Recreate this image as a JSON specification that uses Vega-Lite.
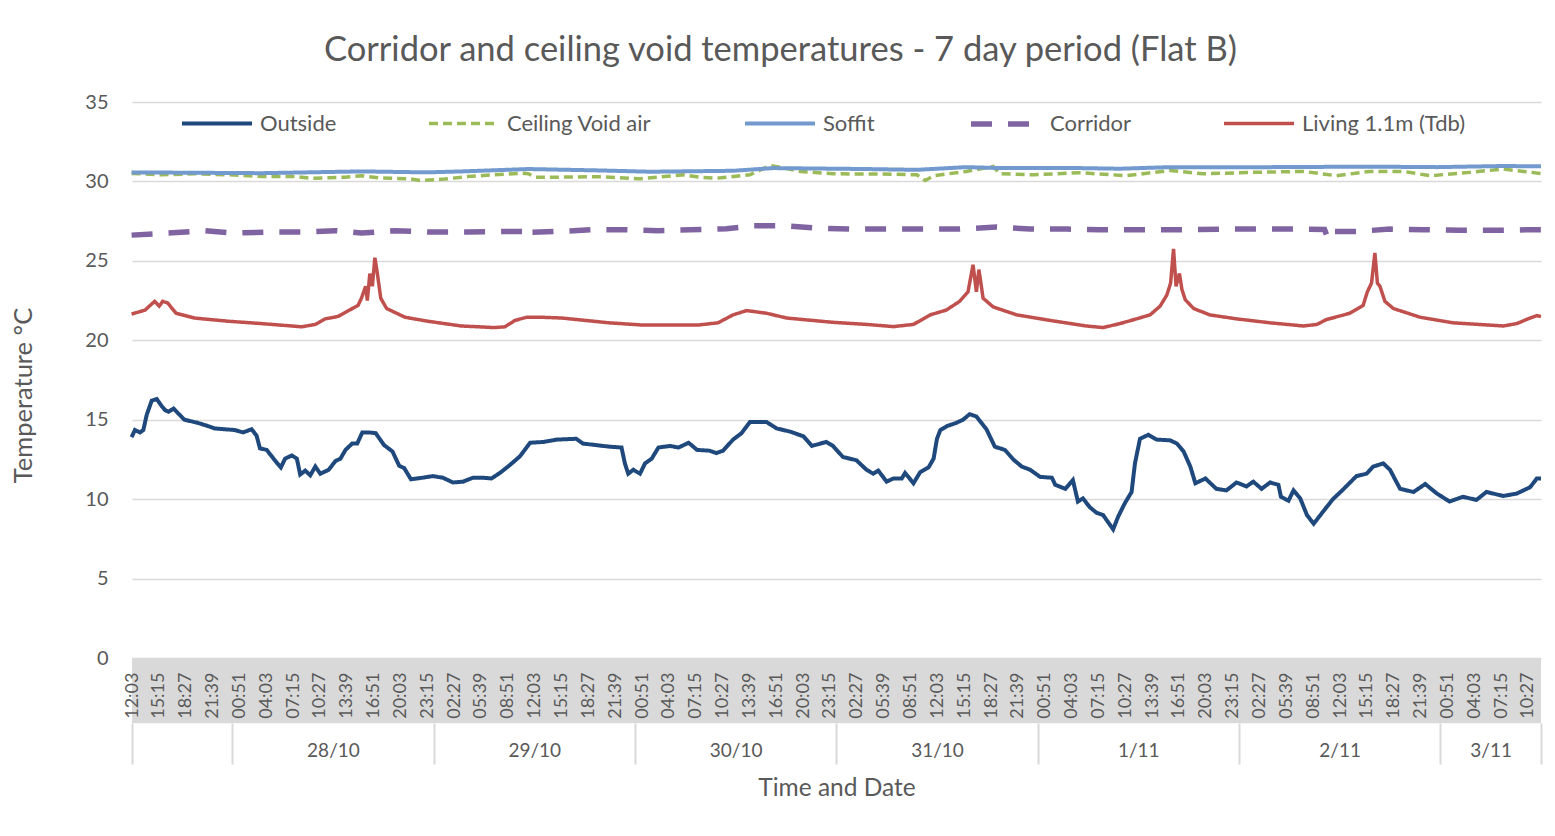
{
"$schema": "https://vega.github.io/schema/vega-lite/v6.json",
"width": 1409,
"height": 556,
"autosize": {"type": "none"},
"padding": {"left": 132, "top": 102, "right": 14, "bottom": 178},
"background": "white",
"config": {"font": "Lato", "view": {"stroke": null}},
"title": {"text": "Corridor and ceiling void temperatures - 7 day period (Flat B)", "fontSize": 34.5, "font": "Lato", "fontWeight": "normal", "color": "#595959", "anchor": "middle", "frame": "group", "offset": 18, "dx": -56},
"resolve": {"scale": {"x": "independent"}},
"layer": [
{
"data": {"values": [{}]},
"mark": {"type": "rect", "color": "#D9D9D9"},
"encoding": {
"x": {"datum": 12.05, "type": "quantitative", "scale": {"domain": [12.05, 180], "nice": false, "zero": false},
"axis": {"orient": "bottom", "values": [12.05, 24, 48, 72, 96, 120, 144, 168, 180], "labels": false, "domain": false, "grid": false, "ticks": true, "tickSize": 41, "tickWidth": 2, "tickColor": "#D9D9D9", "offset": 65, "title": null}},
"x2": {"datum": 180},
"y": {"datum": 0, "type": "quantitative", "scale": {"domain": [0, 35], "nice": false, "zero": false}},
"y2": {"datum": -4.1}
}
},
{
"data": {"values": [
{"hour":12.0,"series":"Outside","temp":13.9},{"hour":12.4,"series":"Outside","temp":14.35},{"hour":13.0,"series":"Outside","temp":14.2},{"hour":13.4,"series":"Outside","temp":14.35},{"hour":13.8,"series":"Outside","temp":15.3},{"hour":14.4,"series":"Outside","temp":16.2},{"hour":15.0,"series":"Outside","temp":16.3},{"hour":15.6,"series":"Outside","temp":15.85},{"hour":16.0,"series":"Outside","temp":15.6},{"hour":16.4,"series":"Outside","temp":15.5},{"hour":17.0,"series":"Outside","temp":15.7},{"hour":18.3,"series":"Outside","temp":15.0},{"hour":19.9,"series":"Outside","temp":14.8},{"hour":21.1,"series":"Outside","temp":14.6},{"hour":21.9,"series":"Outside","temp":14.45},{"hour":24.3,"series":"Outside","temp":14.35},{"hour":25.3,"series":"Outside","temp":14.2},{"hour":26.3,"series":"Outside","temp":14.4},{"hour":26.9,"series":"Outside","temp":14.0},{"hour":27.3,"series":"Outside","temp":13.2},{"hour":28.1,"series":"Outside","temp":13.1},{"hour":28.7,"series":"Outside","temp":12.7},{"hour":29.3,"series":"Outside","temp":12.3},{"hour":29.8,"series":"Outside","temp":12.0},{"hour":30.3,"series":"Outside","temp":12.55},{"hour":31.1,"series":"Outside","temp":12.75},{"hour":31.7,"series":"Outside","temp":12.55},{"hour":32.1,"series":"Outside","temp":11.55},{"hour":32.7,"series":"Outside","temp":11.8},{"hour":33.3,"series":"Outside","temp":11.5},{"hour":33.9,"series":"Outside","temp":12.05},{"hour":34.5,"series":"Outside","temp":11.6},{"hour":35.5,"series":"Outside","temp":11.85},{"hour":36.3,"series":"Outside","temp":12.4},{"hour":36.9,"series":"Outside","temp":12.55},{"hour":37.5,"series":"Outside","temp":13.1},{"hour":38.3,"series":"Outside","temp":13.5},{"hour":38.9,"series":"Outside","temp":13.5},{"hour":39.5,"series":"Outside","temp":14.2},{"hour":40.3,"series":"Outside","temp":14.2},{"hour":41.1,"series":"Outside","temp":14.15},{"hour":42.1,"series":"Outside","temp":13.4},{"hour":43.1,"series":"Outside","temp":13.0},{"hour":43.9,"series":"Outside","temp":12.1},{"hour":44.5,"series":"Outside","temp":11.95},{"hour":45.3,"series":"Outside","temp":11.25},{"hour":46.7,"series":"Outside","temp":11.35},{"hour":47.9,"series":"Outside","temp":11.45},{"hour":49.1,"series":"Outside","temp":11.35},{"hour":50.3,"series":"Outside","temp":11.05},{"hour":51.5,"series":"Outside","temp":11.1},{"hour":52.7,"series":"Outside","temp":11.35},{"hour":53.9,"series":"Outside","temp":11.35},{"hour":54.9,"series":"Outside","temp":11.3},{"hour":55.9,"series":"Outside","temp":11.65},{"hour":57.1,"series":"Outside","temp":12.15},{"hour":58.3,"series":"Outside","temp":12.7},{"hour":59.5,"series":"Outside","temp":13.55},{"hour":61.1,"series":"Outside","temp":13.6},{"hour":62.7,"series":"Outside","temp":13.75},{"hour":65.0,"series":"Outside","temp":13.8},{"hour":65.8,"series":"Outside","temp":13.5},{"hour":67.4,"series":"Outside","temp":13.4},{"hour":69.0,"series":"Outside","temp":13.3},{"hour":70.4,"series":"Outside","temp":13.25},{"hour":70.8,"series":"Outside","temp":12.25},{"hour":71.2,"series":"Outside","temp":11.6},{"hour":71.8,"series":"Outside","temp":11.85},{"hour":72.6,"series":"Outside","temp":11.6},{"hour":73.2,"series":"Outside","temp":12.25},{"hour":74.0,"series":"Outside","temp":12.55},{"hour":74.8,"series":"Outside","temp":13.25},{"hour":76.2,"series":"Outside","temp":13.35},{"hour":77.2,"series":"Outside","temp":13.25},{"hour":78.4,"series":"Outside","temp":13.55},{"hour":79.4,"series":"Outside","temp":13.1},{"hour":80.9,"series":"Outside","temp":13.05},{"hour":81.7,"series":"Outside","temp":12.9},{"hour":82.5,"series":"Outside","temp":13.05},{"hour":83.7,"series":"Outside","temp":13.75},{"hour":84.7,"series":"Outside","temp":14.15},{"hour":85.7,"series":"Outside","temp":14.85},{"hour":87.7,"series":"Outside","temp":14.85},{"hour":88.9,"series":"Outside","temp":14.45},{"hour":90.5,"series":"Outside","temp":14.25},{"hour":92.1,"series":"Outside","temp":13.95},{"hour":93.1,"series":"Outside","temp":13.35},{"hour":94.8,"series":"Outside","temp":13.6},{"hour":95.6,"series":"Outside","temp":13.35},{"hour":96.8,"series":"Outside","temp":12.65},{"hour":98.4,"series":"Outside","temp":12.45},{"hour":99.6,"series":"Outside","temp":11.85},{"hour":100.4,"series":"Outside","temp":11.6},{"hour":101.0,"series":"Outside","temp":11.8},{"hour":102.0,"series":"Outside","temp":11.1},{"hour":102.8,"series":"Outside","temp":11.3},{"hour":103.8,"series":"Outside","temp":11.3},{"hour":104.2,"series":"Outside","temp":11.65},{"hour":105.2,"series":"Outside","temp":11.0},{"hour":106.0,"series":"Outside","temp":11.7},{"hour":107.0,"series":"Outside","temp":12.0},{"hour":107.6,"series":"Outside","temp":12.55},{"hour":108.0,"series":"Outside","temp":13.8},{"hour":108.4,"series":"Outside","temp":14.35},{"hour":109.2,"series":"Outside","temp":14.6},{"hour":110.3,"series":"Outside","temp":14.8},{"hour":111.1,"series":"Outside","temp":15.0},{"hour":111.9,"series":"Outside","temp":15.35},{"hour":112.7,"series":"Outside","temp":15.2},{"hour":113.9,"series":"Outside","temp":14.4},{"hour":114.9,"series":"Outside","temp":13.3},{"hour":116.1,"series":"Outside","temp":13.1},{"hour":117.1,"series":"Outside","temp":12.5},{"hour":118.1,"series":"Outside","temp":12.05},{"hour":119.1,"series":"Outside","temp":11.85},{"hour":120.3,"series":"Outside","temp":11.4},{"hour":121.7,"series":"Outside","temp":11.35},{"hour":122.1,"series":"Outside","temp":10.9},{"hour":123.3,"series":"Outside","temp":10.65},{"hour":124.2,"series":"Outside","temp":11.2},{"hour":124.8,"series":"Outside","temp":9.85},{"hour":125.4,"series":"Outside","temp":10.05},{"hour":126.2,"series":"Outside","temp":9.5},{"hour":127.0,"series":"Outside","temp":9.15},{"hour":127.8,"series":"Outside","temp":9.0},{"hour":128.4,"series":"Outside","temp":8.55},{"hour":129.0,"series":"Outside","temp":8.1},{"hour":129.6,"series":"Outside","temp":8.9},{"hour":130.4,"series":"Outside","temp":9.75},{"hour":131.2,"series":"Outside","temp":10.45},{"hour":131.6,"series":"Outside","temp":12.25},{"hour":132.2,"series":"Outside","temp":13.8},{"hour":133.2,"series":"Outside","temp":14.05},{"hour":134.2,"series":"Outside","temp":13.75},{"hour":135.8,"series":"Outside","temp":13.7},{"hour":136.6,"series":"Outside","temp":13.5},{"hour":137.4,"series":"Outside","temp":13.0},{"hour":138.2,"series":"Outside","temp":12.05},{"hour":138.8,"series":"Outside","temp":11.0},{"hour":140.0,"series":"Outside","temp":11.3},{"hour":141.3,"series":"Outside","temp":10.65},{"hour":142.5,"series":"Outside","temp":10.55},{"hour":143.7,"series":"Outside","temp":11.05},{"hour":144.9,"series":"Outside","temp":10.8},{"hour":145.7,"series":"Outside","temp":11.1},{"hour":146.7,"series":"Outside","temp":10.65},{"hour":147.7,"series":"Outside","temp":11.05},{"hour":148.7,"series":"Outside","temp":10.9},{"hour":149.0,"series":"Outside","temp":10.15},{"hour":149.9,"series":"Outside","temp":9.9},{"hour":150.5,"series":"Outside","temp":10.55},{"hour":151.3,"series":"Outside","temp":10.05},{"hour":152.1,"series":"Outside","temp":9.0},{"hour":152.9,"series":"Outside","temp":8.45},{"hour":154.0,"series":"Outside","temp":9.2},{"hour":155.2,"series":"Outside","temp":10.0},{"hour":156.4,"series":"Outside","temp":10.6},{"hour":158.0,"series":"Outside","temp":11.45},{"hour":159.2,"series":"Outside","temp":11.6},{"hour":160.0,"series":"Outside","temp":12.05},{"hour":161.2,"series":"Outside","temp":12.25},{"hour":162.0,"series":"Outside","temp":11.85},{"hour":163.2,"series":"Outside","temp":10.65},{"hour":164.8,"series":"Outside","temp":10.45},{"hour":166.2,"series":"Outside","temp":10.95},{"hour":167.6,"series":"Outside","temp":10.35},{"hour":169.1,"series":"Outside","temp":9.85},{"hour":170.7,"series":"Outside","temp":10.15},{"hour":172.3,"series":"Outside","temp":9.95},{"hour":173.5,"series":"Outside","temp":10.45},{"hour":175.5,"series":"Outside","temp":10.2},{"hour":177.1,"series":"Outside","temp":10.35},{"hour":178.7,"series":"Outside","temp":10.75},{"hour":179.5,"series":"Outside","temp":11.3},{"hour":180.0,"series":"Outside","temp":11.3},
{"hour":12.0,"series":"Ceiling Void air","temp":30.5},{"hour":15.6,"series":"Ceiling Void air","temp":30.42},{"hour":19.5,"series":"Ceiling Void air","temp":30.48},{"hour":23.5,"series":"Ceiling Void air","temp":30.42},{"hour":27.5,"series":"Ceiling Void air","temp":30.31},{"hour":31.5,"series":"Ceiling Void air","temp":30.31},{"hour":33.4,"series":"Ceiling Void air","temp":30.2},{"hour":37.4,"series":"Ceiling Void air","temp":30.27},{"hour":39.4,"series":"Ceiling Void air","temp":30.36},{"hour":41.4,"series":"Ceiling Void air","temp":30.23},{"hour":45.3,"series":"Ceiling Void air","temp":30.15},{"hour":46.5,"series":"Ceiling Void air","temp":30.05},{"hour":49.3,"series":"Ceiling Void air","temp":30.15},{"hour":52.1,"series":"Ceiling Void air","temp":30.31},{"hour":55.3,"series":"Ceiling Void air","temp":30.42},{"hour":58.5,"series":"Ceiling Void air","temp":30.52},{"hour":59.3,"series":"Ceiling Void air","temp":30.48},{"hour":60.1,"series":"Ceiling Void air","temp":30.27},{"hour":63.3,"series":"Ceiling Void air","temp":30.27},{"hour":68.0,"series":"Ceiling Void air","temp":30.3},{"hour":72.6,"series":"Ceiling Void air","temp":30.17},{"hour":77.8,"series":"Ceiling Void air","temp":30.42},{"hour":79.7,"series":"Ceiling Void air","temp":30.27},{"hour":81.7,"series":"Ceiling Void air","temp":30.2},{"hour":85.7,"series":"Ceiling Void air","temp":30.42},{"hour":88.1,"series":"Ceiling Void air","temp":31.0},{"hour":89.3,"series":"Ceiling Void air","temp":30.9},{"hour":91.7,"series":"Ceiling Void air","temp":30.63},{"hour":95.6,"series":"Ceiling Void air","temp":30.48},{"hour":101.6,"series":"Ceiling Void air","temp":30.46},{"hour":105.6,"series":"Ceiling Void air","temp":30.42},{"hour":106.6,"series":"Ceiling Void air","temp":30.06},{"hour":107.6,"series":"Ceiling Void air","temp":30.36},{"hour":111.5,"series":"Ceiling Void air","temp":30.63},{"hour":114.7,"series":"Ceiling Void air","temp":30.94},{"hour":115.5,"series":"Ceiling Void air","temp":30.48},{"hour":119.5,"series":"Ceiling Void air","temp":30.42},{"hour":125.0,"series":"Ceiling Void air","temp":30.55},{"hour":130.6,"series":"Ceiling Void air","temp":30.36},{"hour":135.8,"series":"Ceiling Void air","temp":30.69},{"hour":139.7,"series":"Ceiling Void air","temp":30.48},{"hour":145.7,"series":"Ceiling Void air","temp":30.57},{"hour":151.7,"series":"Ceiling Void air","temp":30.63},{"hour":155.6,"series":"Ceiling Void air","temp":30.36},{"hour":159.6,"series":"Ceiling Void air","temp":30.63},{"hour":163.6,"series":"Ceiling Void air","temp":30.63},{"hour":166.8,"series":"Ceiling Void air","temp":30.36},{"hour":171.5,"series":"Ceiling Void air","temp":30.57},{"hour":175.5,"series":"Ceiling Void air","temp":30.78},{"hour":180.0,"series":"Ceiling Void air","temp":30.5},
{"hour":12.0,"series":"Soffit","temp":30.57},{"hour":27.5,"series":"Soffit","temp":30.52},{"hour":39.4,"series":"Soffit","temp":30.63},{"hour":47.3,"series":"Soffit","temp":30.57},{"hour":51.3,"series":"Soffit","temp":30.63},{"hour":59.3,"series":"Soffit","temp":30.78},{"hour":68.0,"series":"Soffit","temp":30.69},{"hour":73.8,"series":"Soffit","temp":30.61},{"hour":83.7,"series":"Soffit","temp":30.67},{"hour":88.5,"series":"Soffit","temp":30.84},{"hour":99.6,"series":"Soffit","temp":30.78},{"hour":105.6,"series":"Soffit","temp":30.73},{"hour":111.5,"series":"Soffit","temp":30.9},{"hour":115.5,"series":"Soffit","temp":30.84},{"hour":125.0,"series":"Soffit","temp":30.84},{"hour":129.8,"series":"Soffit","temp":30.8},{"hour":135.8,"series":"Soffit","temp":30.9},{"hour":147.7,"series":"Soffit","temp":30.9},{"hour":159.6,"series":"Soffit","temp":30.93},{"hour":167.6,"series":"Soffit","temp":30.9},{"hour":175.5,"series":"Soffit","temp":30.97},{"hour":180.0,"series":"Soffit","temp":30.95},
{"hour":12.0,"series":"Corridor","temp":26.62},{"hour":16.3,"series":"Corridor","temp":26.75},{"hour":20.7,"series":"Corridor","temp":26.9},{"hour":24.3,"series":"Corridor","temp":26.75},{"hour":28.3,"series":"Corridor","temp":26.81},{"hour":32.7,"series":"Corridor","temp":26.81},{"hour":36.3,"series":"Corridor","temp":26.9},{"hour":39.4,"series":"Corridor","temp":26.75},{"hour":43.4,"series":"Corridor","temp":26.9},{"hour":47.7,"series":"Corridor","temp":26.81},{"hour":52.1,"series":"Corridor","temp":26.81},{"hour":56.5,"series":"Corridor","temp":26.85},{"hour":58.9,"series":"Corridor","temp":26.85},{"hour":59.3,"series":"Corridor","temp":26.5},{"hour":59.7,"series":"Corridor","temp":26.8},{"hour":62.9,"series":"Corridor","temp":26.85},{"hour":66.9,"series":"Corridor","temp":26.96},{"hour":70.6,"series":"Corridor","temp":26.96},{"hour":74.8,"series":"Corridor","temp":26.9},{"hour":78.6,"series":"Corridor","temp":26.96},{"hour":82.9,"series":"Corridor","temp":27.02},{"hour":86.1,"series":"Corridor","temp":27.21},{"hour":89.7,"series":"Corridor","temp":27.21},{"hour":93.7,"series":"Corridor","temp":27.06},{"hour":97.6,"series":"Corridor","temp":27.0},{"hour":102.0,"series":"Corridor","temp":27.0},{"hour":106.4,"series":"Corridor","temp":27.0},{"hour":110.7,"series":"Corridor","temp":27.0},{"hour":115.1,"series":"Corridor","temp":27.13},{"hour":119.1,"series":"Corridor","temp":27.0},{"hour":123.5,"series":"Corridor","temp":27.0},{"hour":127.4,"series":"Corridor","temp":26.96},{"hour":131.8,"series":"Corridor","temp":26.96},{"hour":138.5,"series":"Corridor","temp":26.96},{"hour":142.5,"series":"Corridor","temp":27.0},{"hour":146.9,"series":"Corridor","temp":27.0},{"hour":151.3,"series":"Corridor","temp":27.0},{"hour":154.2,"series":"Corridor","temp":26.98},{"hour":154.6,"series":"Corridor","temp":26.4},{"hour":155.0,"series":"Corridor","temp":26.85},{"hour":158.0,"series":"Corridor","temp":26.85},{"hour":162.0,"series":"Corridor","temp":27.0},{"hour":166.0,"series":"Corridor","temp":26.96},{"hour":170.3,"series":"Corridor","temp":26.92},{"hour":174.7,"series":"Corridor","temp":26.92},{"hour":178.7,"series":"Corridor","temp":26.96},{"hour":180.0,"series":"Corridor","temp":26.96},
{"hour":12.0,"series":"Living 1.1m (Tdb)","temp":21.65},{"hour":13.6,"series":"Living 1.1m (Tdb)","temp":21.9},{"hour":14.75,"series":"Living 1.1m (Tdb)","temp":22.45},{"hour":15.3,"series":"Living 1.1m (Tdb)","temp":22.15},{"hour":15.7,"series":"Living 1.1m (Tdb)","temp":22.45},{"hour":16.3,"series":"Living 1.1m (Tdb)","temp":22.35},{"hour":17.3,"series":"Living 1.1m (Tdb)","temp":21.7},{"hour":19.5,"series":"Living 1.1m (Tdb)","temp":21.4},{"hour":23.5,"series":"Living 1.1m (Tdb)","temp":21.2},{"hour":27.5,"series":"Living 1.1m (Tdb)","temp":21.05},{"hour":32.3,"series":"Living 1.1m (Tdb)","temp":20.85},{"hour":33.9,"series":"Living 1.1m (Tdb)","temp":21.0},{"hour":35.1,"series":"Living 1.1m (Tdb)","temp":21.35},{"hour":36.6,"series":"Living 1.1m (Tdb)","temp":21.5},{"hour":37.8,"series":"Living 1.1m (Tdb)","temp":21.85},{"hour":39.0,"series":"Living 1.1m (Tdb)","temp":22.2},{"hour":39.4,"series":"Living 1.1m (Tdb)","temp":22.65},{"hour":39.9,"series":"Living 1.1m (Tdb)","temp":23.4},{"hour":40.1,"series":"Living 1.1m (Tdb)","temp":22.5},{"hour":40.4,"series":"Living 1.1m (Tdb)","temp":24.2},{"hour":40.7,"series":"Living 1.1m (Tdb)","temp":23.4},{"hour":41.0,"series":"Living 1.1m (Tdb)","temp":25.2},{"hour":41.3,"series":"Living 1.1m (Tdb)","temp":24.2},{"hour":41.7,"series":"Living 1.1m (Tdb)","temp":22.65},{"hour":42.4,"series":"Living 1.1m (Tdb)","temp":22.0},{"hour":44.6,"series":"Living 1.1m (Tdb)","temp":21.45},{"hour":47.3,"series":"Living 1.1m (Tdb)","temp":21.2},{"hour":51.3,"series":"Living 1.1m (Tdb)","temp":20.9},{"hour":55.3,"series":"Living 1.1m (Tdb)","temp":20.8},{"hour":56.5,"series":"Living 1.1m (Tdb)","temp":20.85},{"hour":57.7,"series":"Living 1.1m (Tdb)","temp":21.25},{"hour":59.1,"series":"Living 1.1m (Tdb)","temp":21.45},{"hour":60.9,"series":"Living 1.1m (Tdb)","temp":21.45},{"hour":63.3,"series":"Living 1.1m (Tdb)","temp":21.4},{"hour":68.9,"series":"Living 1.1m (Tdb)","temp":21.1},{"hour":72.6,"series":"Living 1.1m (Tdb)","temp":20.97},{"hour":79.7,"series":"Living 1.1m (Tdb)","temp":20.97},{"hour":81.9,"series":"Living 1.1m (Tdb)","temp":21.1},{"hour":83.7,"series":"Living 1.1m (Tdb)","temp":21.6},{"hour":85.3,"series":"Living 1.1m (Tdb)","temp":21.87},{"hour":87.7,"series":"Living 1.1m (Tdb)","temp":21.7},{"hour":90.1,"series":"Living 1.1m (Tdb)","temp":21.4},{"hour":95.6,"series":"Living 1.1m (Tdb)","temp":21.13},{"hour":99.6,"series":"Living 1.1m (Tdb)","temp":21.0},{"hour":102.8,"series":"Living 1.1m (Tdb)","temp":20.86},{"hour":105.2,"series":"Living 1.1m (Tdb)","temp":21.0},{"hour":107.2,"series":"Living 1.1m (Tdb)","temp":21.6},{"hour":109.1,"series":"Living 1.1m (Tdb)","temp":21.9},{"hour":110.7,"series":"Living 1.1m (Tdb)","temp":22.45},{"hour":111.7,"series":"Living 1.1m (Tdb)","temp":23.05},{"hour":112.3,"series":"Living 1.1m (Tdb)","temp":24.75},{"hour":112.7,"series":"Living 1.1m (Tdb)","temp":23.05},{"hour":113.0,"series":"Living 1.1m (Tdb)","temp":24.45},{"hour":113.5,"series":"Living 1.1m (Tdb)","temp":22.65},{"hour":114.7,"series":"Living 1.1m (Tdb)","temp":22.1},{"hour":117.5,"series":"Living 1.1m (Tdb)","temp":21.6},{"hour":121.5,"series":"Living 1.1m (Tdb)","temp":21.25},{"hour":125.8,"series":"Living 1.1m (Tdb)","temp":20.9},{"hour":127.8,"series":"Living 1.1m (Tdb)","temp":20.8},{"hour":129.8,"series":"Living 1.1m (Tdb)","temp":21.05},{"hour":131.8,"series":"Living 1.1m (Tdb)","temp":21.35},{"hour":133.4,"series":"Living 1.1m (Tdb)","temp":21.6},{"hour":134.6,"series":"Living 1.1m (Tdb)","temp":22.15},{"hour":135.4,"series":"Living 1.1m (Tdb)","temp":22.85},{"hour":135.85,"series":"Living 1.1m (Tdb)","temp":23.6},{"hour":136.2,"series":"Living 1.1m (Tdb)","temp":25.75},{"hour":136.5,"series":"Living 1.1m (Tdb)","temp":23.4},{"hour":136.9,"series":"Living 1.1m (Tdb)","temp":24.2},{"hour":137.2,"series":"Living 1.1m (Tdb)","temp":23.2},{"hour":137.6,"series":"Living 1.1m (Tdb)","temp":22.55},{"hour":138.6,"series":"Living 1.1m (Tdb)","temp":22.0},{"hour":140.5,"series":"Living 1.1m (Tdb)","temp":21.6},{"hour":143.7,"series":"Living 1.1m (Tdb)","temp":21.35},{"hour":147.7,"series":"Living 1.1m (Tdb)","temp":21.1},{"hour":151.7,"series":"Living 1.1m (Tdb)","temp":20.9},{"hour":153.3,"series":"Living 1.1m (Tdb)","temp":21.0},{"hour":154.4,"series":"Living 1.1m (Tdb)","temp":21.3},{"hour":157.2,"series":"Living 1.1m (Tdb)","temp":21.7},{"hour":158.8,"series":"Living 1.1m (Tdb)","temp":22.2},{"hour":159.3,"series":"Living 1.1m (Tdb)","temp":23.05},{"hour":159.8,"series":"Living 1.1m (Tdb)","temp":23.6},{"hour":160.2,"series":"Living 1.1m (Tdb)","temp":25.5},{"hour":160.5,"series":"Living 1.1m (Tdb)","temp":23.6},{"hour":160.8,"series":"Living 1.1m (Tdb)","temp":23.4},{"hour":161.4,"series":"Living 1.1m (Tdb)","temp":22.45},{"hour":162.4,"series":"Living 1.1m (Tdb)","temp":22.0},{"hour":165.6,"series":"Living 1.1m (Tdb)","temp":21.45},{"hour":169.5,"series":"Living 1.1m (Tdb)","temp":21.1},{"hour":175.5,"series":"Living 1.1m (Tdb)","temp":20.9},{"hour":177.1,"series":"Living 1.1m (Tdb)","temp":21.05},{"hour":178.7,"series":"Living 1.1m (Tdb)","temp":21.4},{"hour":179.5,"series":"Living 1.1m (Tdb)","temp":21.55},{"hour":180.0,"series":"Living 1.1m (Tdb)","temp":21.5}
]},
"mark": {"type": "line", "interpolate": "linear", "strokeCap": "butt"},
"encoding": {
"x": {"field": "hour", "type": "quantitative", "scale": {"domain": [12.05, 180], "nice": false, "zero": false},
"axis": {"orient": "bottom", "zindex": 1, "values": [12.05,15.25,18.45,21.65,24.85,28.05,31.25,34.45,37.65,40.85,44.05,47.25,50.45,53.65,56.85,60.05,63.25,66.45,69.65,72.85,76.05,79.25,82.45,85.65,88.85,92.05,95.25,98.45,101.65,104.85,108.05,111.25,114.45,117.65,120.85,124.05,127.25,130.45,133.65,136.85,140.05,143.25,146.45,149.65,152.85,156.05,159.25,162.45,165.65,168.85,172.05,175.25,178.45],
"labelExpr": "(floor(round((datum.value%24)*60)/60)<10?'0':'') + floor(round((datum.value%24)*60)/60) + ':' + (round((datum.value%24)*60)%60<10?'0':'') + (round((datum.value%24)*60)%60)",
"labelAngle": -90, "labelFontSize": 18, "labelColor": "#595959", "labelFont": "Lato", "labelPadding": 14, "ticks": false, "tickSize": 0, "domain": false, "grid": false, "title": null, "labelOverlap": false, "labelBound": false, "labelFlush": false}},
"y": {"field": "temp", "type": "quantitative", "scale": {"domain": [0, 35], "nice": false, "zero": false},
"axis": {"values": [0,5,10,15,20,25,30,35], "grid": true, "gridColor": "#D9D9D9", "gridWidth": 1.5, "domain": false, "ticks": false, "labelFontSize": 20, "labelColor": "#595959", "labelFont": "Lato", "labelPadding": 24, "title": "Temperature  °C", "titleFontSize": 25.5, "titleFont": "Lato", "titleFontWeight": "normal", "titleColor": "#595959", "titlePadding": 48, "titleY": 293}},
"color": {"field": "series", "type": "nominal",
"scale": {"domain": ["Outside","Ceiling Void air","Soffit","Corridor","Living 1.1m (Tdb)"], "range": ["#1F497D","#9BBB59","#729ACF","#8064A2","#C0504D"]},
"legend": {"orient": "none", "legendX": 48, "legendY": -16, "direction": "horizontal", "title": null, "symbolType": "stroke", "symbolSize": 4900, "symbolStrokeWidth": 3.5, "labelFontSize": 22, "labelColor": "#595959", "labelFont": "Lato", "labelLimit": 400, "columnPadding": 85, "labelOffset": 6, "padding": 0}},
"strokeDash": {"field": "series", "type": "nominal",
"scale": {"domain": ["Outside","Ceiling Void air","Soffit","Corridor","Living 1.1m (Tdb)"], "range": [[1,0],[9,5],[1,0],[21,16],[1,0]]},
"legend": {"orient": "none", "legendX": 48, "legendY": -16, "direction": "horizontal", "title": null, "symbolType": "stroke", "symbolSize": 4900, "symbolStrokeWidth": 3.5, "labelFontSize": 22, "labelColor": "#595959", "labelFont": "Lato", "labelLimit": 400, "columnPadding": 85, "labelOffset": 6, "padding": 0}},
"strokeWidth": {"field": "series", "type": "nominal",
"scale": {"type": "ordinal", "domain": ["Outside","Ceiling Void air","Soffit","Corridor","Living 1.1m (Tdb)"], "range": [4,3.5,4,5.5,3.5]}, "legend": null}
}
},
{
"data": {"values": [{}]},
"mark": {"type": "rule", "strokeOpacity": 0},
"encoding": {
"x": {"datum": 36, "type": "quantitative", "scale": {"domain": [12.05, 180], "nice": false, "zero": false},
"axis": {"orient": "bottom", "values": [36, 60, 84, 108, 132, 156, 174],
"labelExpr": "(floor(datum.value/24)+27 > 31) ? ((floor(datum.value/24)-4) + '/11') : ((floor(datum.value/24)+27) + '/10')",
"ticks": false, "tickSize": 0, "domain": false, "grid": false, "offset": 65, "labelPadding": 18, "labelFontSize": 19, "labelColor": "#595959", "labelFont": "Lato", "labelOverlap": false,
"title": "Time and Date", "titleFontSize": 24.5, "titleFont": "Lato", "titleFontWeight": "normal", "titleColor": "#595959", "titlePadding": 16}}
}
}
]
}
